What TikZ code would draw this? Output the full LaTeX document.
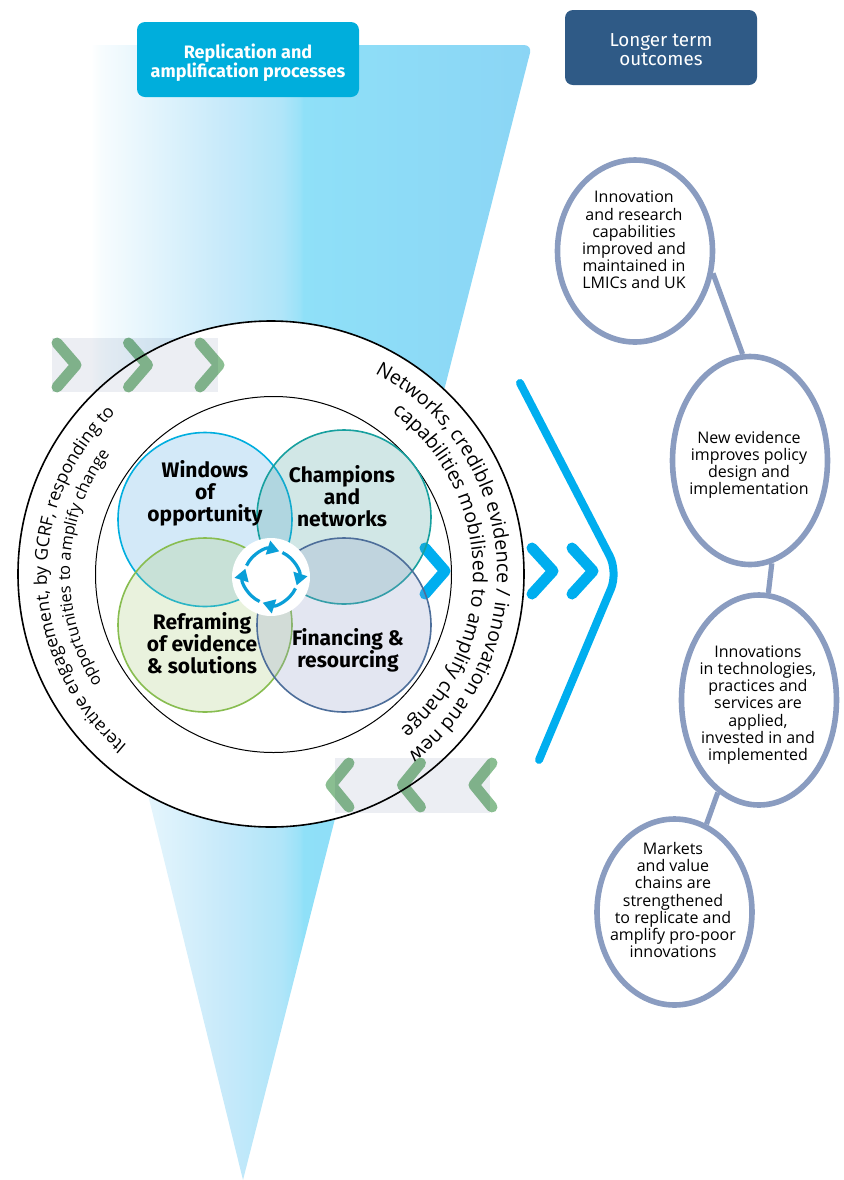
\documentclass[tikz,border=0pt]{standalone}
\usepackage{fontspec}
\setmainfont{Open Sans}
\newfontfamily\headfont{Fira Sans}
\usetikzlibrary{shapes,arrows.meta,positioning,decorations.text}
\definecolor{replicationblue}{RGB}{0,174,220}
\definecolor{outcomeblue}{RGB}{47,90,134}
\definecolor{ellipseblue}{RGB}{138,156,192}
\definecolor{arrowblue}{RGB}{0,174,239}
\definecolor{cyclingblue}{RGB}{10,159,216}
\definecolor{chevrongreen}{RGB}{138,190,145}
\definecolor{bandgrey}{RGB}{236,238,243}
\definecolor{windowsline}{RGB}{0,174,223}
\definecolor{windowsfill}{RGB}{80,168,228}
\definecolor{championsline}{RGB}{23,160,159}
\definecolor{championsfill}{RGB}{72,160,156}
\definecolor{reframingline}{RGB}{136,189,80}
\definecolor{reframingfill}{RGB}{168,204,120}
\definecolor{financingline}{RGB}{77,110,154}
\definecolor{financingfill}{RGB}{144,156,200}
\definecolor{fadeA}{RGB}{247,252,254}
\definecolor{fadeB}{RGB}{200,234,250}
\definecolor{fadeC}{RGB}{176,229,249}
\definecolor{fadeD}{RGB}{155,226,248}
\definecolor{fadeE}{RGB}{143,224,248}
\definecolor{fadeF}{RGB}{139,213,245}
\pgfdeclarehorizontalshading{funnelfade}{100bp}{color(0bp)=(white); color(32.7bp)=(white); color(33.7bp)=(fadeA); color(45.3bp)=(fadeB); color(51bp)=(fadeC); color(52.7bp)=(fadeD); color(53.1bp)=(fadeE); color(75bp)=(fadeF); color(100bp)=(fadeF)}
\newcommand{\ringfont}{\fontsize{9.8}{12}\selectfont}
\newcommand{\leftfont}{\fontsize{8.8}{11}\selectfont}
\newcommand{\smallleftfont}{\fontsize{8.2}{10}\selectfont}

\begin{document}
\begin{tikzpicture}[x=0.5pt, y=-0.5pt,
    headbox/.style={rounded corners=4pt, minimum width=111pt, minimum height=37.5pt},
    headtext/.style={align=center, text=white},
    outcome/.style={ellipse, draw=ellipseblue, line width=2.8pt, fill=white, inner sep=0pt, minimum width=77.5pt},
    outcometext/.style={align=center, font=\fontsize{8}{8.6}\selectfont},
    link/.style={draw=ellipseblue, line width=2.6pt},
    venn/.style={circle, inner sep=0pt, minimum size=87pt, line width=0.8pt, fill opacity=0.25, draw opacity=1},
    vennlabel/.style={align=center, font=\headfont\fontsize{10.5}{11}\selectfont\bfseries},
    ring/.style={circle, draw=black, fill=white, inner sep=0pt},
    chevron/.style={line width=5.5pt, line cap=round, line join=round},
    ringtext/.style={decorate, decoration={text along path, text align=center, text={#1}}}]

  \useasboundingbox (0,0) rectangle (843,1180);

  \shade[shading=funnelfade] (10,45) [rounded corners=4pt] -- (532,45) [sharp corners] -- (243,1180) -- (10,235) -- cycle;

  \node[headbox, fill=replicationblue] (replication) at (248,59.5) {};
  \node[headbox, fill=outcomeblue, minimum width=96pt] (longer) at (661,47.5) {};
  \node[headtext, font=\headfont\fontsize{9}{9.8}\selectfont\bfseries] at (248,62.5) {Replication and\\amplification processes};
  \node[headtext, font=\headfont\fontsize{9.4}{9.8}\selectfont] at (661,49.5) {Longer term\\outcomes};

  \node[outcome, minimum height=91pt] (capabilities) at (635,251) {};
  \node[outcome, minimum height=104pt] (evidence) at (750,460.5) {};
  \node[outcome, minimum height=105pt] (innovations) at (759,700) {};
  \node[outcome, minimum height=93pt] (markets) at (674.5,912) {};

  \node[outcometext] at (634,240) {Innovation\\and research\\capabilities\\improved and\\maintained in\\LMICs and UK};
  \node[outcometext] at (749,465) {New evidence\\improves policy\\design and\\implementation};
  \node[outcometext] at (758,705) {Innovations\\in technologies,\\practices and\\services are\\applied,\\invested in and\\implemented};
  \node[outcometext] at (673,900) {Markets\\and value\\chains are\\strengthened\\to replicate and\\amplify pro-poor\\innovations};

  \draw[link] (capabilities.-16) -- (evidence.94);
  \draw[link] (evidence.-78) -- (innovations.85);
  \draw[link] (innovations.-114) -- (markets.70);

  \node[ring, line width=0.8pt, minimum size=253pt] (outerring) at (271,574) {};
  \node[ring, line width=0.5pt, minimum size=178pt] (innerring) at (273.5,574.5) {};

  \path[ringtext={|\ringfont|Networks, credible evidence / innovation and new}] (outerring.center) ++(247:226) arc[start angle=247, end angle=463, radius=226];
  \path[ringtext={|\ringfont|capabilities mobilised to amplify change}] (outerring.center) ++(252:202) arc[start angle=252, end angle=465, radius=202];
  \path[ringtext={|\leftfont|Iterative engagement, by GCRF, responding to}] (outerring.center) ++(90:224) arc[start angle=90, end angle=266, radius=224];
  \path[ringtext={|\smallleftfont|opportunities to amplify change}] (outerring.center) ++(92:201) arc[start angle=92, end angle=272, radius=201];

  \draw[chevron, arrowblue] (425,548) -- (445,571) -- (425,594);
  \draw[chevron, arrowblue] (532,548) -- (553,571) -- (532,594);
  \draw[chevron, arrowblue] (572,548) -- (593,571) -- (572,594);
  \draw[arrowblue, line width=4pt, line cap=round, rounded corners=9pt] (520,383) -- (618,572) -- (539,760);

  \node[venn, draw=windowsline, fill=windowsfill] (windows) at (205,519.5) {};
  \node[venn, draw=championsline, fill=championsfill] (champions) at (344,517) {};
  \node[venn, draw=reframingline, fill=reframingfill] (reframing) at (205,625) {};
  \node[venn, draw=financingline, fill=financingfill] (financing) at (344,625) {};

  \node[vennlabel] at (205,493) {Windows\\of\\opportunity};
  \node[vennlabel] at (342,496) {Champions\\and\\networks};
  \node[vennlabel] at (202,643) {Reframing\\of evidence\\\& solutions};
  \node[vennlabel] at (348,650) {Financing \&\\resourcing};

  \node[circle, fill=white, inner sep=0pt, minimum size=39pt] (cycle) at (271,577) {};
  \foreach \a in {0,90,180,270}
    \draw[cyclingblue, line width=1.6pt, -{Triangle[width=7pt, length=6pt]}] (cycle.center) ++(205+\a:27) arc[start angle=205+\a, end angle=288+\a, radius=27];

  \fill[bandgrey, blend mode=multiply] (52,338) rectangle (218,392);
  \fill[bandgrey, blend mode=multiply] (335,758) rectangle (490,813);
  \foreach \x in {57,128.5,200}
    \draw[chevron, chevrongreen, blend mode=multiply] (\x,343) -- (\x+19,365) -- (\x,387);
  \foreach \x in {349,420.5,492}
    \draw[chevron, chevrongreen, blend mode=multiply] (\x,763) -- (\x-18,785) -- (\x,807);
\end{tikzpicture}
\end{document}
